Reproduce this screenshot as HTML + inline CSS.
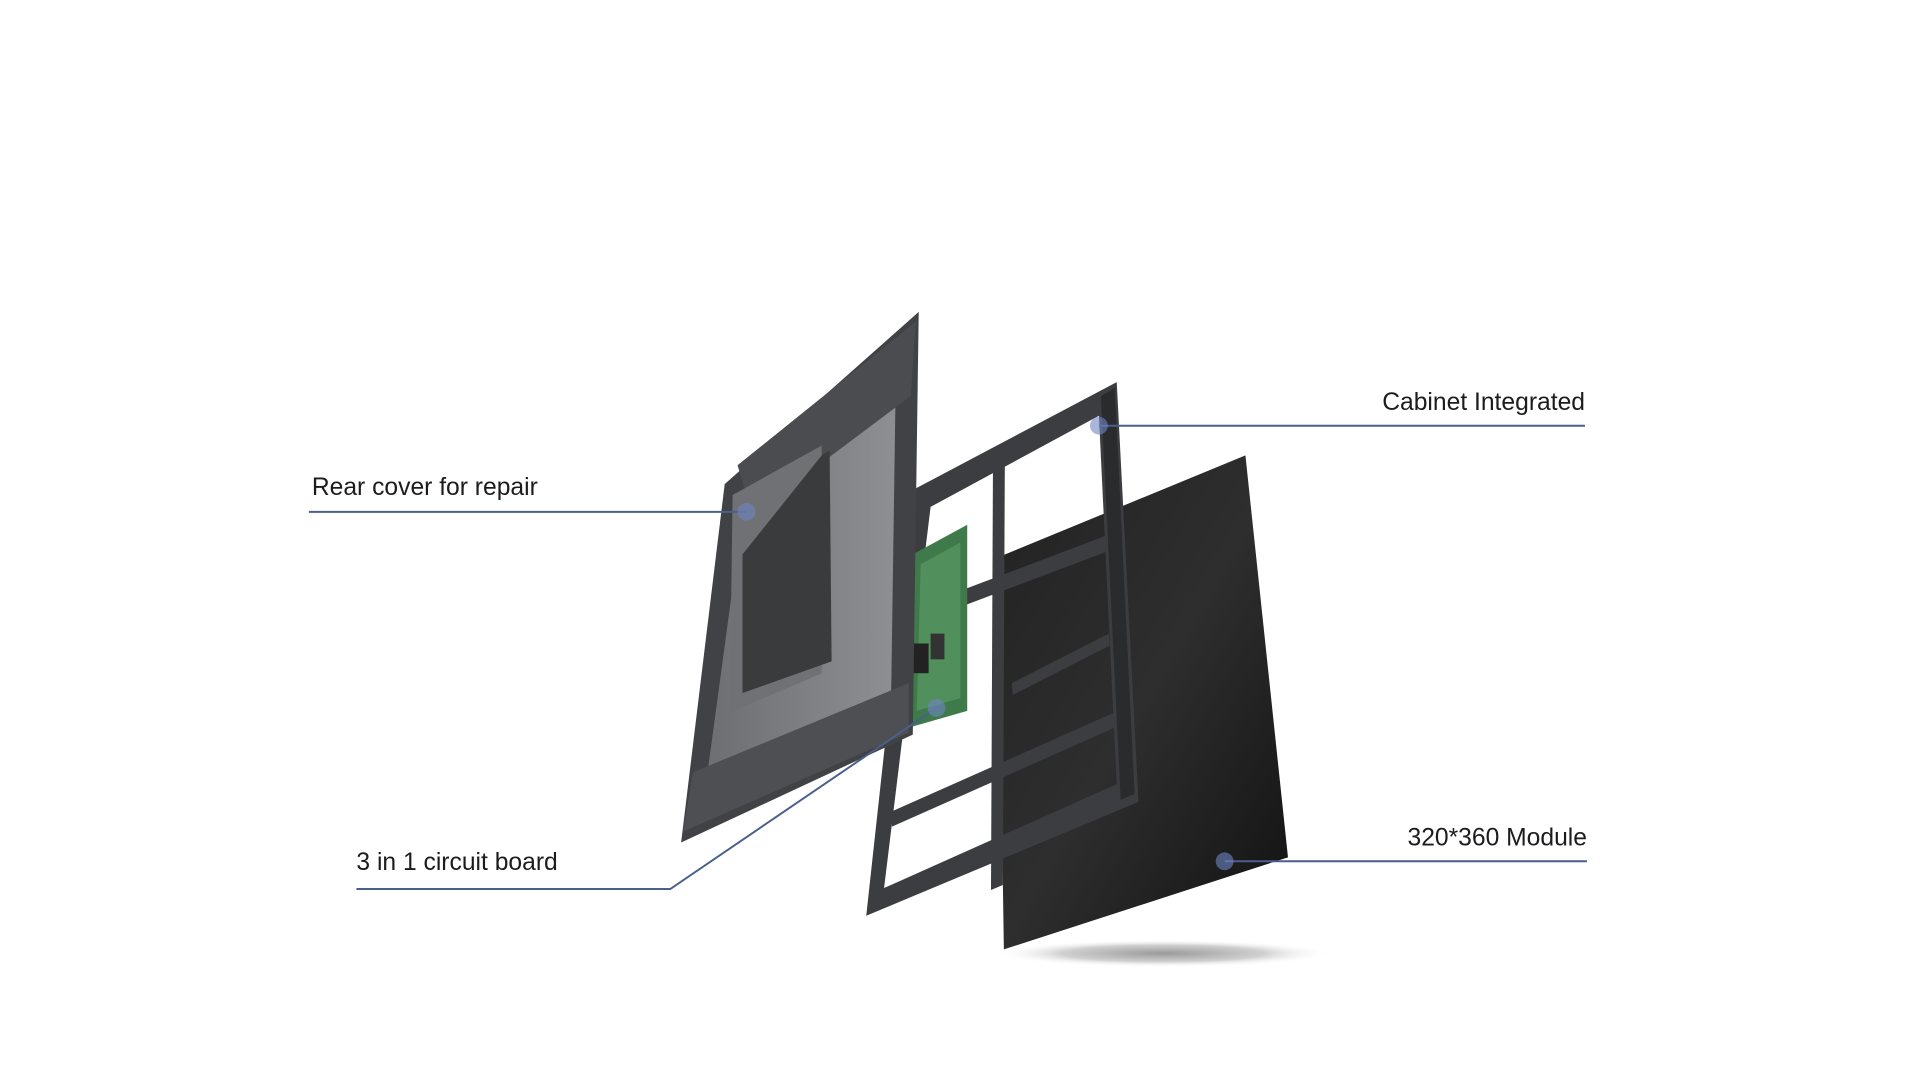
<!DOCTYPE html>
<html><head><meta charset="utf-8"><style>
html,body{margin:0;padding:0;background:#fff;width:1920px;height:1079px;overflow:hidden}
svg{position:absolute;left:0;top:0}
text{font-family:"Liberation Sans",sans-serif;font-size:24.9px;fill:#1c1c1c}
</style></head><body>
<svg width="1920" height="1079" viewBox="0 0 1920 1079">
<defs>
<radialGradient id="sh" cx="50%" cy="50%" r="50%"><stop offset="0" stop-color="#9a9a9a"/><stop offset="0.6" stop-color="#d0d0d0"/><stop offset="1" stop-color="#fff" stop-opacity="0"/></radialGradient>
<linearGradient id="mod" x1="0" y1="0" x2="1" y2="1"><stop offset="0" stop-color="#222"/><stop offset="0.5" stop-color="#2e2e2e"/><stop offset="1" stop-color="#111"/></linearGradient>
<linearGradient id="rc" x1="0" y1="0" x2="1" y2="0"><stop offset="0" stop-color="#6c6e71"/><stop offset="1" stop-color="#8d8f92"/></linearGradient>
</defs>
<g transform="scale(0.99)">
<ellipse cx="1175" cy="963" rx="170" ry="14" fill="url(#sh)"/>
<polygon points="1008,563 1258,460 1301,866 1014,959" fill="url(#mod)"/>
<path fill-rule="evenodd" fill="#3c3d40" d="M922,495 L1128,386 L1150,810 L875,925 Z M940,512 L1110,420 L1128,792 L893,897 Z"/>
<path fill="#3c3d40" d="M1003,470 l12,-6 l-2,430 l-12,5 Z M935,610 L1120,540 L1121,556 L936,626 Z M900,820 L1125,720 L1126,735 L901,835 Z M1022,690 L1120,640 L1121,652 L1023,702 Z"/>
<path fill="#2a2b2d" d="M1112,400 l14,-8 l20,410 l-14,6 Z"/>
<polygon points="922,560 977,530 977,718 918,735" fill="#3f7a4a"/>
<polygon points="930,570 970,548 970,705 926,718" fill="#5a9a64" opacity="0.7"/>
<rect x="922" y="650" width="16" height="30" fill="#222"/>
<rect x="940" y="640" width="14" height="26" fill="#333"/>
<polygon points="732,489 928,315 922,742 688,851" fill="#404245"/>
<polygon points="752,505 905,370 900,712 712,800" fill="url(#rc)"/>
<polygon points="745,470 925,325 920,400 760,520" fill="#4a4c4f"/>
<polygon points="740,500 830,450 830,680 737,720" fill="#6f7174"/>
<polygon points="750,560 830,460 838,455 840,668 750,700" fill="#3a3b3d"/>
<polygon points="700,780 918,690 918,740 690,840" fill="#4d4f52"/>
<g stroke="#4a5f8c" stroke-width="2" fill="none">
<line x1="312" y1="517" x2="754" y2="517"/>
<line x1="1110" y1="430" x2="1601" y2="430"/>
<polyline points="360,898 677,898 946,715"/>
<line x1="1237" y1="870" x2="1603" y2="870"/>
</g>
<g fill="#6f86c4" opacity="0.6">
<circle cx="754" cy="517" r="9"/><circle cx="1110" cy="430" r="9"/><circle cx="946" cy="715" r="9"/><circle cx="1237" cy="870" r="9"/>
</g>
<text x="315" y="500">Rear cover for repair</text>
<text x="1601" y="414" text-anchor="end">Cabinet Integrated</text>
<text x="360" y="879">3 in 1 circuit board</text>
<text x="1603" y="854" text-anchor="end">320*360 Module</text>
</g>
</svg>
</body></html>
